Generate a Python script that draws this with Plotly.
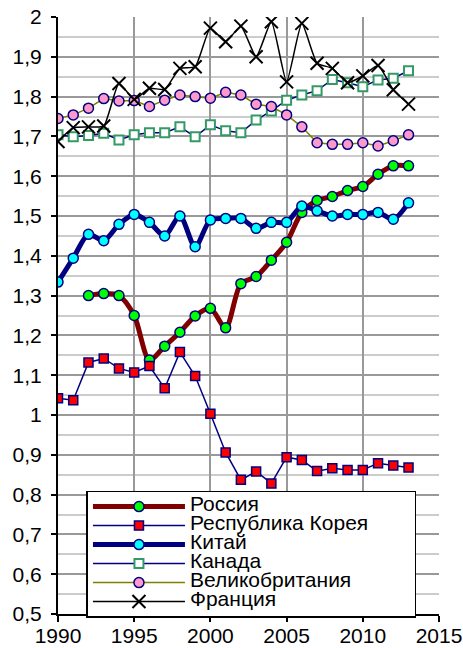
import plotly.graph_objects as go

years = list(range(1990, 2014))

russia_years = list(range(1992, 2014))
russia = [1.300, 1.305, 1.300, 1.250, 1.138, 1.173, 1.208, 1.249, 1.268, 1.219, 1.330,
          1.348, 1.389, 1.434, 1.509, 1.539, 1.549, 1.564, 1.574, 1.605, 1.626, 1.626]

korea = [1.042, 1.037, 1.132, 1.142, 1.117, 1.107, 1.123, 1.067, 1.158, 1.098, 1.003,
         0.906, 0.837, 0.858, 0.828, 0.894, 0.887, 0.859, 0.866, 0.862, 0.862, 0.879,
         0.873, 0.868]

china = [1.334, 1.394, 1.454, 1.438, 1.479, 1.504, 1.484, 1.450, 1.500, 1.423, 1.490,
         1.494, 1.494, 1.469, 1.484, 1.484, 1.525, 1.513, 1.500, 1.504, 1.504, 1.509,
         1.492, 1.533]

canada = [1.704, 1.699, 1.702, 1.708, 1.691, 1.704, 1.709, 1.709, 1.724, 1.699, 1.729,
          1.714, 1.709, 1.741, 1.764, 1.791, 1.804, 1.815, 1.843, 1.835, 1.825, 1.842,
          1.846, 1.865]

uk = [1.745, 1.754, 1.771, 1.795, 1.789, 1.790, 1.775, 1.791, 1.804, 1.800, 1.796,
      1.811, 1.804, 1.781, 1.775, 1.754, 1.724, 1.684, 1.680, 1.680, 1.684, 1.676,
      1.689, 1.704]

france = [1.687, 1.722, 1.724, 1.726, 1.833, 1.793, 1.821, 1.818, 1.871, 1.875, 1.972,
          1.938, 1.977, 1.900, 1.988, 1.837, 1.984, 1.884, 1.871, 1.835, 1.852, 1.878,
          1.817, 1.781]

names = ["Россия", "Республика Корея", "Китай", "Канада", "Великобритания", "Франция"]

y_ticks = [0.5, 0.6, 0.7, 0.8, 0.9, 1.0, 1.1, 1.2, 1.3, 1.4, 1.5, 1.6, 1.7, 1.8, 1.9, 2.0]
y_tick_text = ["0,5", "0,6", "0,7", "0,8", "0,9", "1", "1,1", "1,2", "1,3", "1,4",
               "1,5", "1,6", "1,7", "1,8", "1,9", "2"]
x_ticks = [1990, 1995, 2000, 2005, 2010, 2015]

NAVY = "#000080"
FONT = "Liberation Sans, Arial, sans-serif"


def legend_label(text):
    return '<span style="font-size:21px">' + text + "</span>"


fig = go.Figure()

fig.add_trace(go.Scatter(
    x=russia_years, y=russia, name=legend_label(names[0]), mode="lines+markers",
    line=dict(color="#800000", width=5, shape="spline", smoothing=0.8),
    marker=dict(symbol="circle", size=10, color="#00FF00", line=dict(color=NAVY, width=1.5))))

fig.add_trace(go.Scatter(
    x=years, y=korea, name=legend_label(names[1]), mode="lines+markers",
    line=dict(color=NAVY, width=1.5),
    marker=dict(symbol="square", size=9, color="#FF0000", line=dict(color=NAVY, width=1.5))))

fig.add_trace(go.Scatter(
    x=years, y=china, name=legend_label(names[2]), mode="lines+markers",
    line=dict(color=NAVY, width=5, shape="spline", smoothing=0.8),
    marker=dict(symbol="circle", size=10, color="#00FFFF", line=dict(color=NAVY, width=1.5))))

fig.add_trace(go.Scatter(
    x=years, y=canada, name=legend_label(names[3]), mode="lines+markers",
    line=dict(color=NAVY, width=1.5),
    marker=dict(symbol="square", size=9, color="#FFFFFF", line=dict(color="#339966", width=2))))

fig.add_trace(go.Scatter(
    x=years, y=uk, name=legend_label(names[4]), mode="lines+markers",
    line=dict(color="#808000", width=1.5),
    marker=dict(symbol="circle", size=10, color="#FF99CC", line=dict(color=NAVY, width=1.5))))

fig.add_trace(go.Scatter(
    x=years, y=france, name=legend_label(names[5]), mode="lines+markers",
    line=dict(color="#000000", width=1.5, shape="spline", smoothing=0.5),
    marker=dict(symbol="x-thin", size=13, color="#000000", line=dict(color="#000000", width=2))))

fig.update_layout(
    width=463, height=648,
    margin=dict(l=58, r=24, t=17, b=34, pad=0, autoexpand=False),
    paper_bgcolor="white", plot_bgcolor="white",
    separators=", ",
    font=dict(family=FONT, size=21, color="black"),
    showlegend=True,
    legend=dict(
        orientation="h",
        x=0.0747, y=-0.006, xanchor="left", yanchor="bottom",
        bgcolor="white", bordercolor="black", borderwidth=1.5,
        font=dict(family=FONT, size=12.3, color="black"),
        tracegroupgap=0, itemwidth=92,
        entrywidth=220, entrywidthmode="pixels",
    ),
)

fig.update_xaxes(
    range=[1990, 2015], tickmode="array", tickvals=x_ticks,
    showgrid=True, gridcolor="#999999", gridwidth=2,
    showline=True, linecolor="black", linewidth=2,
    ticks="outside", ticklen=6, tickwidth=2, tickcolor="black",
    tickfont=dict(family=FONT, size=21, color="black"),
    ticklabelstandoff=-4,
    zeroline=False, automargin=False,
)

fig.update_yaxes(
    range=[0.5, 2.0], tickmode="array", tickvals=y_ticks, ticktext=y_tick_text,
    showgrid=True, gridcolor="#999999", gridwidth=2,
    minor=dict(dtick=0.05, tick0=0.5, showgrid=True, gridcolor="#cccccc", gridwidth=2),
    showline=True, linecolor="black", linewidth=2,
    ticks="outside", ticklen=5, tickwidth=2, tickcolor="black",
    tickfont=dict(family=FONT, size=21, color="black"),
    ticklabelstandoff=5,
    zeroline=False, automargin=False,
)

fig.write_html("out.html", config={"displayModeBar": False},
               post_script="document.body.style.margin='0';")
